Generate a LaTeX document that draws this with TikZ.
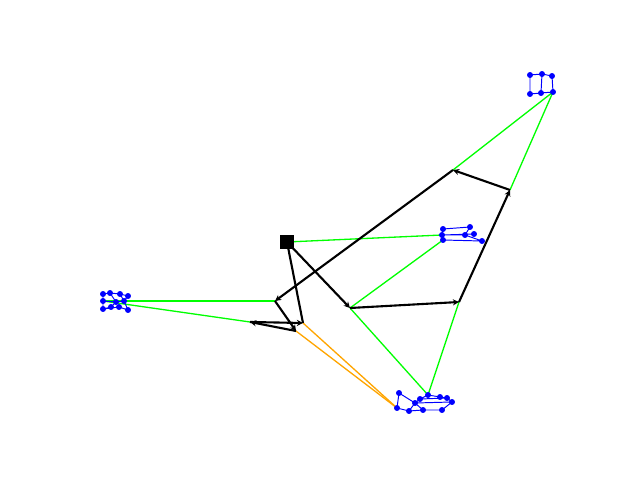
\documentclass[tikz,border=0pt]{standalone}
\usetikzlibrary{arrows.meta}
\definecolor{linkorange}{RGB}{255,165,0}
\begin{document}
\begin{tikzpicture}[x=0.02cm, y=-0.02cm,
    dot_style/.style={circle,fill=blue,inner sep=0pt,minimum size=3.4pt},
    start_style/.style={rectangle,fill=black,inner sep=0pt,minimum size=8pt},
    tour_style/.style={draw=black,line width=1.2pt,-{Stealth[length=3.5pt,width=3.5pt]}},
    link_style/.style={draw=green,line width=0.75pt},
    back_style/.style={draw=linkorange,line width=0.75pt},
    blob_style/.style={draw=blue,line width=0.55pt}]
  \useasboundingbox (0,0) rectangle (640,480);
  % tour waypoints
  \path
    (287,242) coordinate (s)
    (350,308) coordinate (p1)
    (459,302) coordinate (p2)
    (510,190) coordinate (p3)
    (453,170) coordinate (p4)
    (275,301) coordinate (p5)
    (296,331) coordinate (p6)
    (250,322) coordinate (p7)
    (303,323) coordinate (p8);
  % clusters
  \path
    (530,75) coordinate (t1) (542,74) coordinate (t2) (552,76) coordinate (t3)
    (553,92) coordinate (t4) (541,93) coordinate (t5) (530,94) coordinate (t6)
    (443,229) coordinate (m1) (470,227) coordinate (m2) (442,235) coordinate (m3)
    (465,235) coordinate (m4) (474,234) coordinate (m5) (443,240) coordinate (m6)
    (482,241) coordinate (m7)
    (103,294) coordinate (l1) (110,293) coordinate (l2) (120,294) coordinate (l3)
    (128,296) coordinate (l4) (103,301) coordinate (l5) (116,302) coordinate (l6)
    (124,301) coordinate (l7) (103,309) coordinate (l8) (111,307) coordinate (l9)
    (119,307) coordinate (l10) (128,310) coordinate (l11)
    (399,393) coordinate (b1) (397,408) coordinate (b2) (409,411) coordinate (b3)
    (415,403) coordinate (b4) (420,399) coordinate (b5) (428,395) coordinate (b6)
    (440,397) coordinate (b7) (447,398) coordinate (b8) (452,402) coordinate (b9)
    (423,410) coordinate (b10) (442,410) coordinate (b11);
  % links
  \draw[link_style] (s) -- (m3);
  \draw[link_style] (p1) -- (m6);
  \draw[link_style] (p1) -- (b6);
  \draw[link_style] (p2) -- (b6);
  \draw[link_style] (p3) -- (t4);
  \draw[link_style] (p4) -- (t4);
  \draw[link_style] (p5) -- (l5);
  \draw[link_style] (p7) -- (l5);
  \draw[back_style] (p8) -- (b2);
  \draw[back_style] (p6) -- (b2);
  % tour
  \draw[tour_style] (s) -- (p1);
  \draw[tour_style] (p1) -- (p2);
  \draw[tour_style] (p2) -- (p3);
  \draw[tour_style] (p3) -- (p4);
  \draw[tour_style] (p4) -- (p5);
  \draw[tour_style] (p5) -- (p6);
  \draw[tour_style] (p6) -- (p7);
  \draw[tour_style] (p7) -- (p8);
  \draw[tour_style] (p8) -- (s);
  \node[start_style] (start) at (s) {};
  % cluster outlines
  \draw[blob_style] (t1) -- (t2) -- (t3) -- (t4) -- (t5) -- (t6) -- cycle (t2) -- (t5);
  \draw[blob_style] (m1) -- (m2) -- (m4) -- (m3) -- (m5) (m1) -- (m3) -- (m6) -- (m7) -- (m4);
  \draw[blob_style] (l1) -- (l2) -- (l3) -- (l7) -- (l11) -- (l10) -- (l8) -- (l5) -- cycle
    (l5) -- (l6) -- (l7) (l2) -- (l6) -- (l9) -- (l8) (l3) -- (l4) -- (l7);
  \draw[blob_style] (b1) -- (b2) -- (b3) -- (b4) -- cycle
    (b4) -- (b5) -- (b6) -- (b7) -- (b8) -- (b9) -- (b11) -- (b10) -- (b4) -- (b9)
    (b5) -- (b8) (b10) -- (b3);
  \foreach \c in {t1,t2,t3,t4,t5,t6,m1,m2,m3,m4,m5,m6,m7,l1,l2,l3,l4,l5,l6,l7,l8,l9,l10,l11,b1,b2,b3,b4,b5,b6,b7,b8,b9,b10,b11}
    \node[dot_style] (d\c) at (\c) {};
\end{tikzpicture}
\end{document}
